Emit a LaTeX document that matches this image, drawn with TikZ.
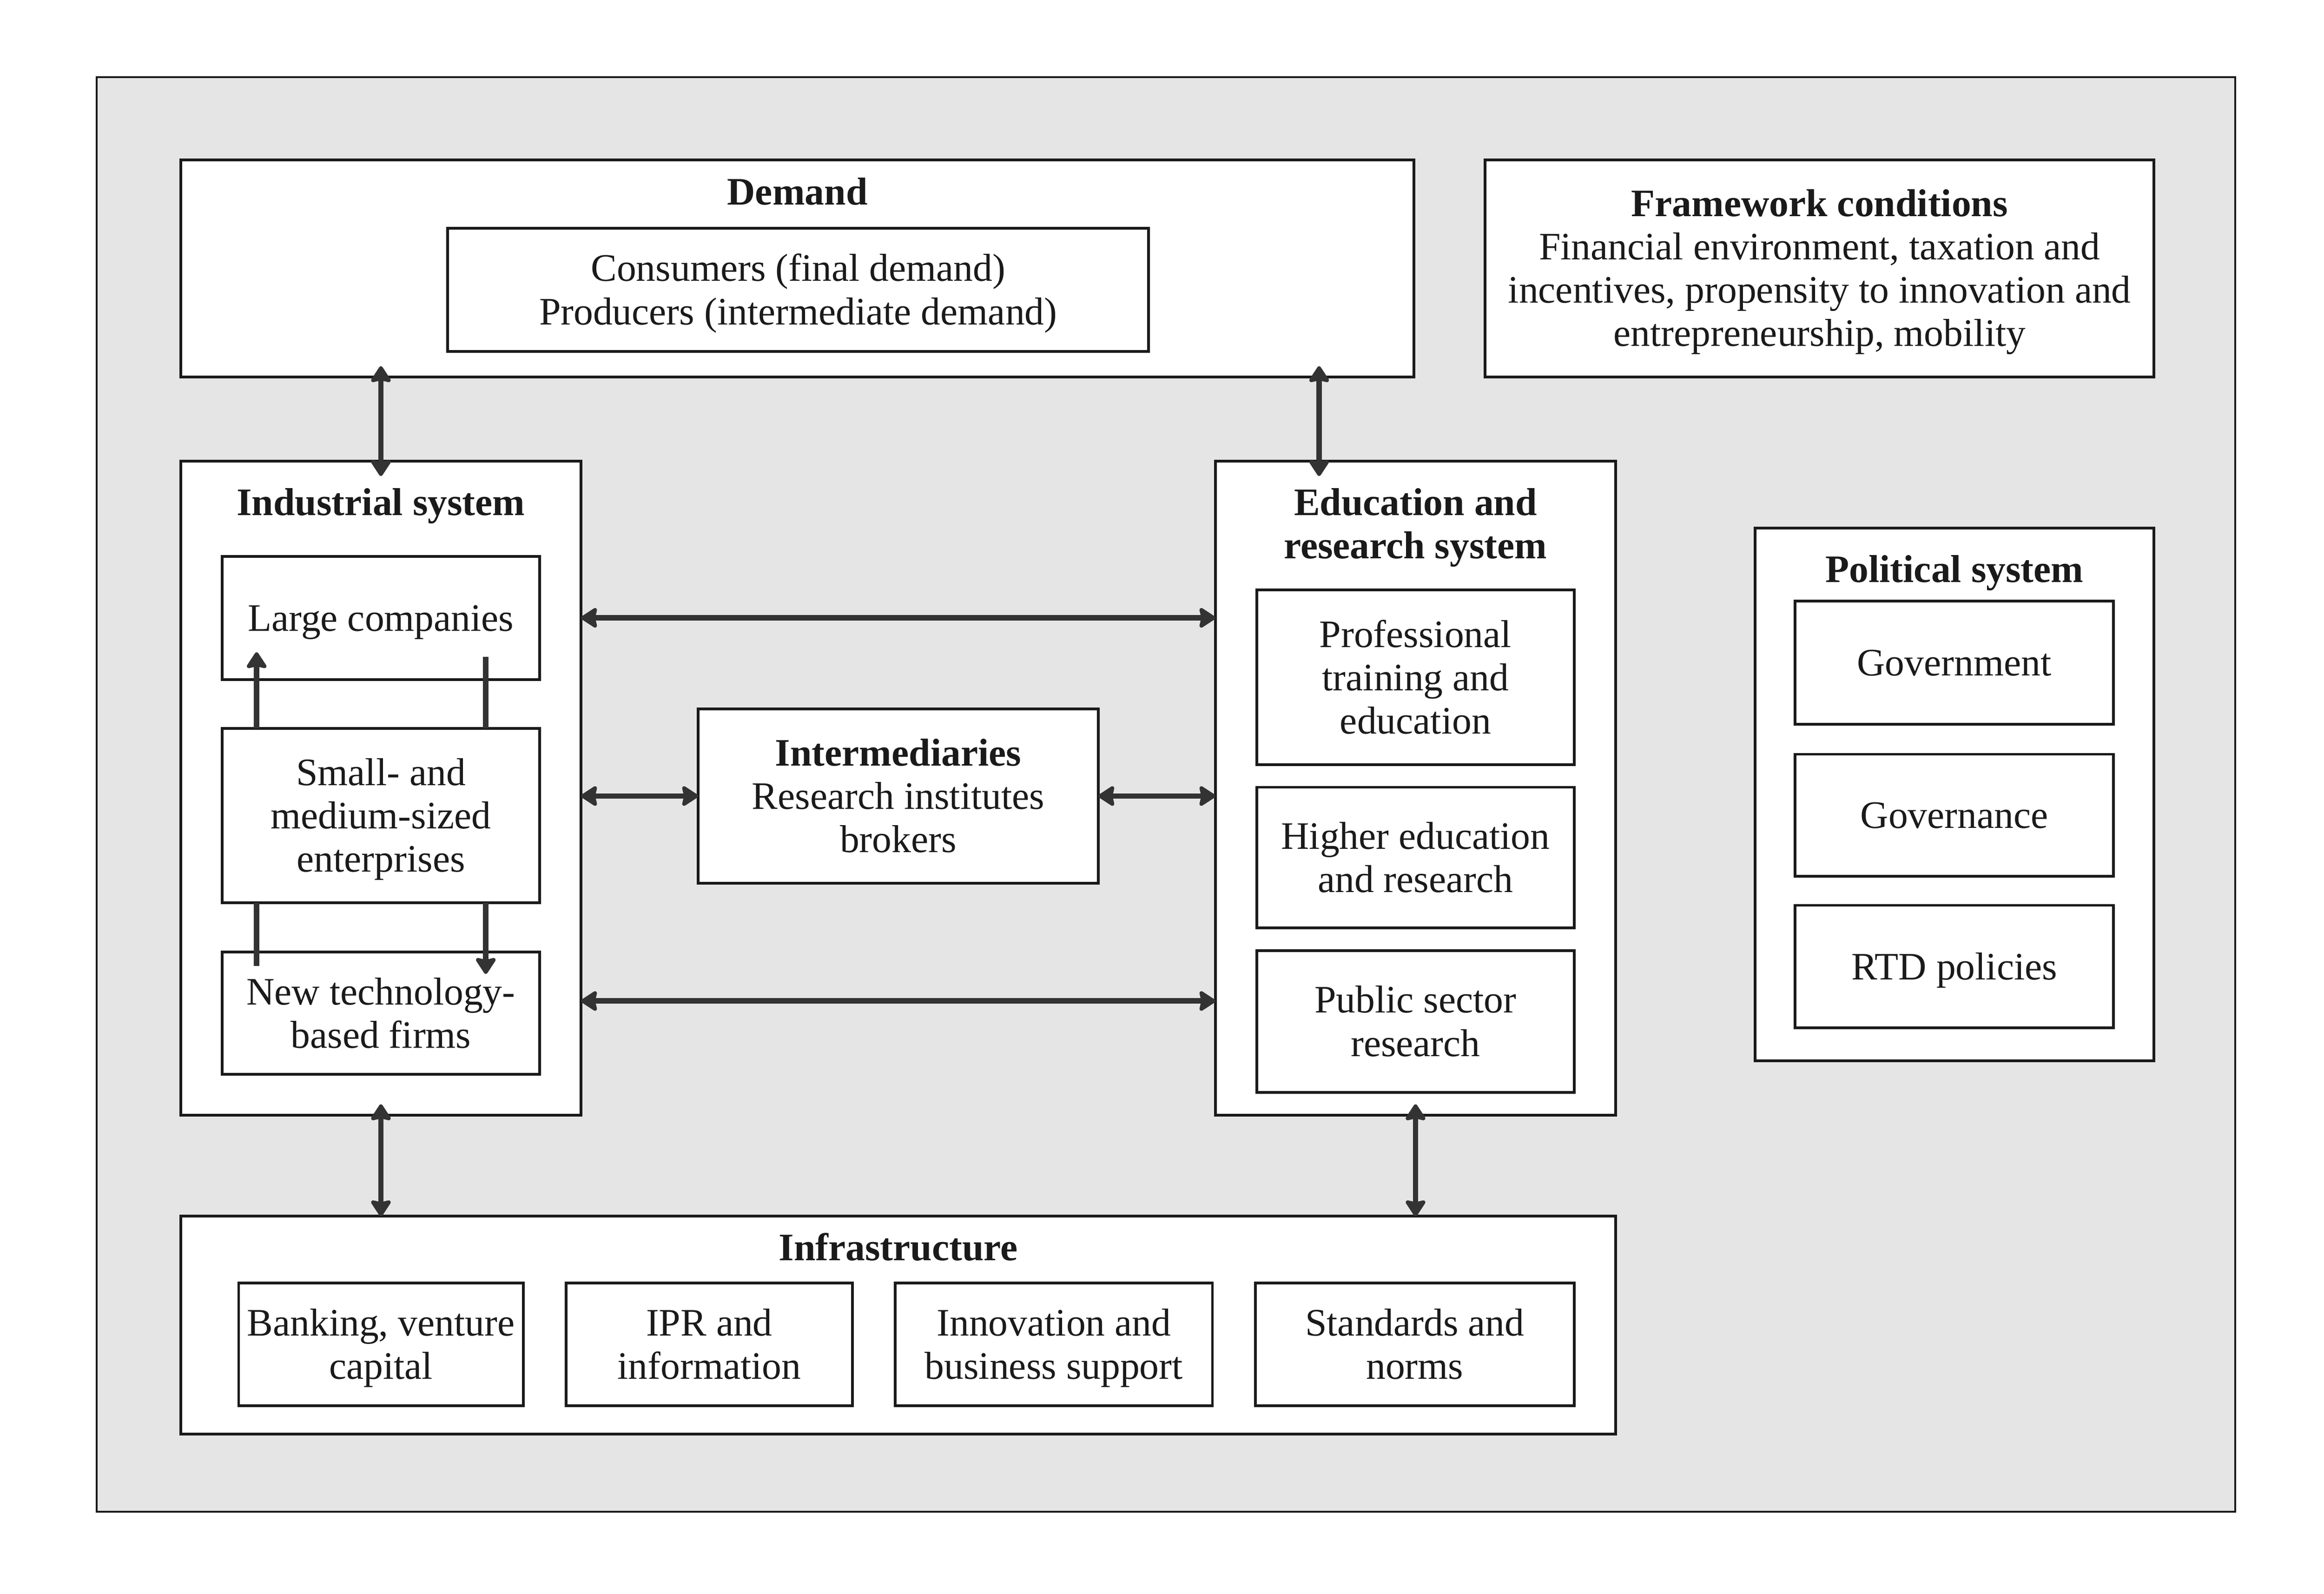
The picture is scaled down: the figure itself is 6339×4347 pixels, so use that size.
\documentclass[tikz,border=0pt]{standalone}
\usepackage{fontspec}
\setmainfont{Liberation Serif}
\usetikzlibrary{arrows.meta}
\definecolor{bg}{HTML}{E5E5E5}
\definecolor{ln}{HTML}{1A1A1A}
\definecolor{ar}{HTML}{333333}
\newcommand\fstrut{\rule[-2.3pt]{0pt}{11.7pt}}
\tikzset{hd/.tip={Stealth[length=5pt,width=6.4pt,inset=0.7pt,round]}}
\begin{document}
\begin{tikzpicture}[x=0.1pt,y=-0.1pt,
  txt/.style={font=\fontsize{10.6pt}{11.8pt}\selectfont, text=ln},
  box/.style={txt, draw=ln, line width=0.75pt, fill=white, rectangle, inner sep=0pt, outer sep=0pt, align=center, execute at begin node=\fstrut, execute at end node=\fstrut},
  ttl/.style={font=\fontsize{10.6pt}{11.8pt}\selectfont\bfseries, text=ln, anchor=base, inner sep=0pt, outer sep=0pt},
  arr/.style={draw=ar, line width=1.5pt, hd-hd},
  onearr/.style={draw=ar, line width=1.5pt, -hd},
  lin/.style={draw=ar, line width=1.5pt}]

\fill[white] (0,0) rectangle (6339,4347);
\useasboundingbox (0,0) rectangle (6339,4347);

\node[draw=ln, line width=0.5pt, fill=bg, minimum width=583.4pt, minimum height=391.3pt, inner sep=0pt, outer sep=0pt] (outer) at (3180,2166.5) {};

% Demand
\node[box, minimum width=336.4pt, minimum height=59.2pt] (demand) at (2175,732) {};
\node[ttl] (demandt) at (2175,559) {Demand};
\node[box, minimum width=191.2pt, minimum height=33.5pt] (cons) at (2177,790.5) {\fstrut Consumers (final demand)\\Producers (intermediate demand)\fstrut};

% Framework
\node[box, minimum width=182.4pt, minimum height=59.2pt] (frame) at (4963,732) {\fstrut\textbf{Framework conditions}\\Financial environment, taxation and\\incentives, propensity to innovation and\\entrepreneurship, mobility\fstrut};

% Industrial system
\node[box, minimum width=109.2pt, minimum height=178.3pt] (ind) at (1039,2149.5) {};
\node[ttl] (indt) at (1039,1405) {Industrial system};
\node[box, minimum width=86.6pt, minimum height=33.6pt] (lc) at (1039,1685) {Large companies};
\node[box, minimum width=86.6pt, minimum height=47.5pt] (sme) at (1039,2224.5) {\fstrut Small- and\\medium-sized\\enterprises\fstrut};
\node[box, minimum width=86.6pt, minimum height=33.3pt] (ntbf) at (1039,2763.5) {\fstrut New technology-\\based firms\fstrut};

% Intermediaries
\node[box, minimum width=109.2pt, minimum height=47.6pt] (inter) at (2450,2171) {\fstrut\textbf{Intermediaries}\\Research institutes\\brokers\fstrut};

% Education and research system
\node[box, minimum width=109.2pt, minimum height=178.3pt] (edu) at (3861,2149.5) {};
\node[ttl] (edut1) at (3861,1405) {Education and};
\node[ttl] (edut2) at (3861,1523) {research system};
\node[box, minimum width=86.6pt, minimum height=47.7pt] (prof) at (3861,1847.5) {\fstrut Professional\\training and\\education\fstrut};
\node[box, minimum width=86.6pt, minimum height=38.3pt] (hig) at (3861,2338.5) {\fstrut Higher education\\and research\fstrut};
\node[box, minimum width=86.6pt, minimum height=38.6pt] (pub) at (3861,2786) {\fstrut Public sector\\research\fstrut};

% Political system
\node[box, minimum width=108.8pt, minimum height=145.3pt] (pol) at (5331,2166.5) {};
\node[ttl] (polt) at (5331,1588) {Political system};
\node[box, minimum width=86.9pt, minimum height=33.6pt] (gov) at (5330.5,1807) {Government};
\node[box, minimum width=86.9pt, minimum height=33.3pt] (gvn) at (5330.5,2223.5) {Governance};
\node[box, minimum width=86.9pt, minimum height=33.4pt] (rtd) at (5330.5,2636) {RTD policies};

% Infrastructure
\node[box, minimum width=391.4pt, minimum height=59.4pt] (infra) at (2450,3614) {};
\node[ttl] (infrat) at (2450,3437) {Infrastructure};
\node[box, minimum width=77.6pt, minimum height=33.5pt] (bank) at (1039,3666.5) {\fstrut Banking, venture\\capital\fstrut};
\node[box, minimum width=78.1pt, minimum height=33.5pt] (ipr) at (1934.5,3666.5) {\fstrut IPR and\\information\fstrut};
\node[box, minimum width=86.5pt, minimum height=33.5pt] (innov) at (2874.5,3666.5) {\fstrut Innovation and\\business support\fstrut};
\node[box, minimum width=87.0pt, minimum height=33.5pt] (std) at (3859,3666.5) {\fstrut Standards and\\norms\fstrut};

% helper coordinates
\coordinate (xA) at (3598,0);
\coordinate (xL) at (700,0);
\coordinate (xR) at (1325,0);
\coordinate (yB) at (0,2730);

% connectors
\draw[arr] ([yshift=2.9pt]demand.south -| ind.north) -- ([yshift=-4pt]ind.north);
\draw[arr] ([yshift=2.9pt]demand.south -| xA) -- ([yshift=-4pt]edu.north -| xA);
\draw[arr] ([yshift=2.9pt]ind.south) -- (infra.north -| ind.south);
\draw[arr] ([yshift=2.9pt]edu.south) -- (infra.north -| edu.south);
\draw[arr] (ind.east |- lc.east) -- (edu.west |- lc.east);
\draw[arr] (ind.east |- inter.west) -- (inter.west);
\draw[arr] (inter.east) -- (edu.west |- inter.east);
\draw[arr] (ind.east |- yB) -- (edu.west |- yB);
\draw[onearr] (sme.north -| xL) -- ([yshift=7.4pt]lc.south -| xL);
\draw[lin] (sme.north -| xR) -- ([yshift=6.1pt]lc.south -| xR);
\draw[lin] (sme.south -| xL) -- ([yshift=-3.7pt]ntbf.north -| xL);
\draw[onearr] (sme.south -| xR) -- ([yshift=-5.9pt]ntbf.north -| xR);
\end{tikzpicture}
\end{document}
